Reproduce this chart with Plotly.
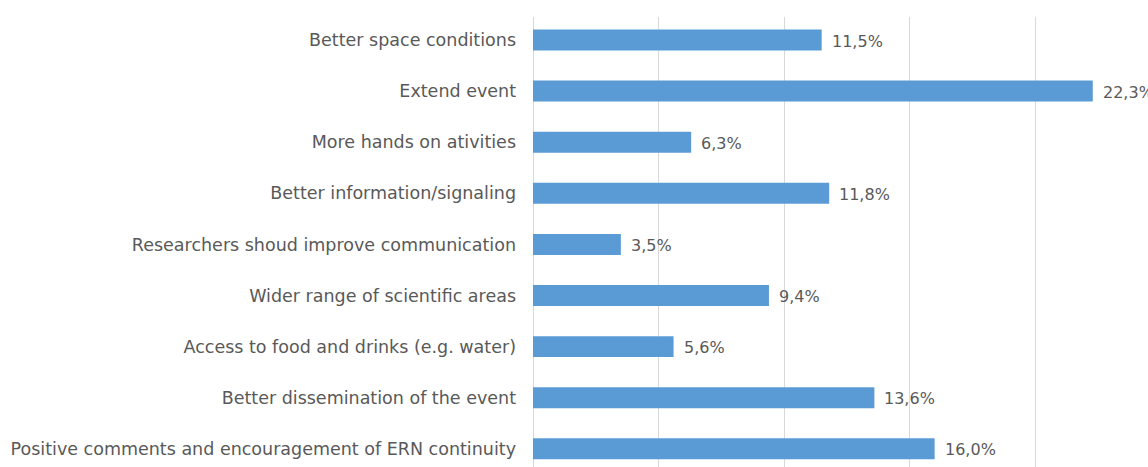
import plotly.graph_objects as go

categories = [
    "Better space conditions",
    "Extend event",
    "More hands on ativities",
    "Better information/signaling",
    "Researchers shoud improve communication",
    "Wider range of scientific areas",
    "Access to food and drinks (e.g. water)",
    "Better dissemination of the event",
    "Positive comments and encouragement of ERN continuity",
]
values = [11.5, 22.3, 6.3, 11.8, 3.5, 9.4, 5.6, 13.6, 16.0]
labels = [f"{v:.1f}%".replace(".", ",") for v in values]

FONT = "DejaVu Sans"
GREY = "#595959"

fig = go.Figure()
fig.add_trace(go.Bar(
    x=values, y=categories, orientation="h",
    marker=dict(color="#5b9bd5", line=dict(width=0)),
    width=0.41, hoverinfo="skip",
))
for v, c, t in zip(values, categories, labels):
    fig.add_annotation(x=v, y=c, text=t, showarrow=False, xanchor="left",
                       xshift=8, yshift=-1,
                       font=dict(family=FONT, size=16, color=GREY))

fig.update_layout(
    width=1148, height=467,
    margin=dict(l=533, r=0, t=17, b=0),
    paper_bgcolor="white", plot_bgcolor="white",
    showlegend=False,
    xaxis=dict(range=[0, 24.5], dtick=5, tick0=0, showticklabels=False,
               showgrid=True, gridcolor="#d9d9d9", gridwidth=1,
               zeroline=True, zerolinecolor="#d9d9d9", zerolinewidth=1,
               showline=False, fixedrange=True),
    yaxis=dict(type="category", range=[8.356, -0.45],
               showgrid=False, showline=False, zeroline=False,
               ticks="", ticklabelstandoff=16, fixedrange=True,
               tickfont=dict(family=FONT, size=17.5, color=GREY)),
)
fig.write_html(
    "out.html",
    config={"displayModeBar": False},
    post_script="document.body.style.margin='0';document.body.style.overflow='hidden';",
)
